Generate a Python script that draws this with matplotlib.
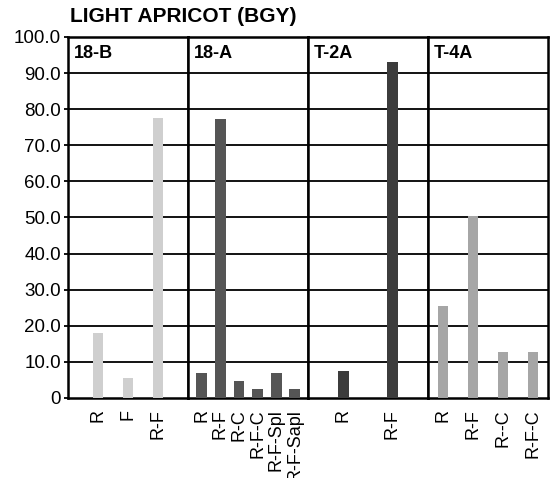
import numpy as np
import matplotlib
matplotlib.use("Agg")
import matplotlib.pyplot as plt

# panel names and data
panels = ["18-B", "18-A", "T-2A", "T-4A"]
cats_18b = ["R", "F", "R-F"]
vals_18b = [18.0, 5.5, 77.5]
cats_18a = ["R", "R-F", "R-C", "R-F-C", "R-F-Spl", "R-F-Sapl"]
vals_18a = [7.0, 77.3, 4.8, 2.6, 7.0, 2.6]
cats_t2a = ["R", "R-F"]
vals_t2a = [7.6, 93.0]
cats_t4a = ["R", "R-F", "R--C", "R-F-C"]
vals_t4a = [25.5, 50.5, 12.8, 12.8]

cats = [cats_18b, cats_18a, cats_t2a, cats_t4a]
vals = [vals_18b, vals_18a, vals_t2a, vals_t4a]
colors = ["#cfcfcf", "#555555", "#3c3c3c", "#a6a6a6"]
xlims = [(0, 4), (0.25, 6.7), (0.27, 2.73), (0.5, 4.5)]
widths = [0.34, 0.58, 0.22, 0.34]

plt.rcParams['font.family'] = ['Liberation Sans', 'DejaVu Sans']

fig = plt.figure(figsize=(5.59, 4.78), dpi=100)
gs = fig.add_gridspec(1, 4, left=0.1216, right=0.980, top=0.9226,
                      bottom=0.1674, wspace=0)
axes = [fig.add_subplot(gs[0, i]) for i in range(4)]

for i, ax in enumerate(axes):
    x = np.arange(1, len(cats[i]) + 1)
    ax.bar(x, vals[i], width=widths[i], color=colors[i], zorder=3)
    ax.set_xlim(*xlims[i])
    ax.set_ylim(0, 100)
    ax.set_yticks(np.arange(0, 101, 10))
    for y in range(10, 100, 10):
        ax.axhline(y, color="black", lw=1.3, zorder=1)
    ax.set_xticks(x)
    ax.set_xticklabels(cats[i], rotation=90, fontsize=13)
    ax.tick_params(axis="x", length=0, pad=8)
    for s in ax.spines.values():
        s.set_linewidth(1.8)
        s.set_color("black")
    ax.text(0.05, 0.978, panels[i], transform=ax.transAxes, fontsize=13,
            fontweight="bold", va="top", ha="left")
    if i == 0:
        ax.set_yticklabels(["0"] + [f"{v:.1f}" for v in range(10, 101, 10)],
                           fontsize=13.5)
        ax.tick_params(axis="y", length=3, width=1.3, pad=2)
    else:
        ax.tick_params(axis="y", left=False, labelleft=False)

fig.text(0.125, 0.965, "LIGHT APRICOT (BGY)", fontsize=15,
         fontweight="bold", va="center", ha="left")

fig.savefig("out.png", dpi=100)
